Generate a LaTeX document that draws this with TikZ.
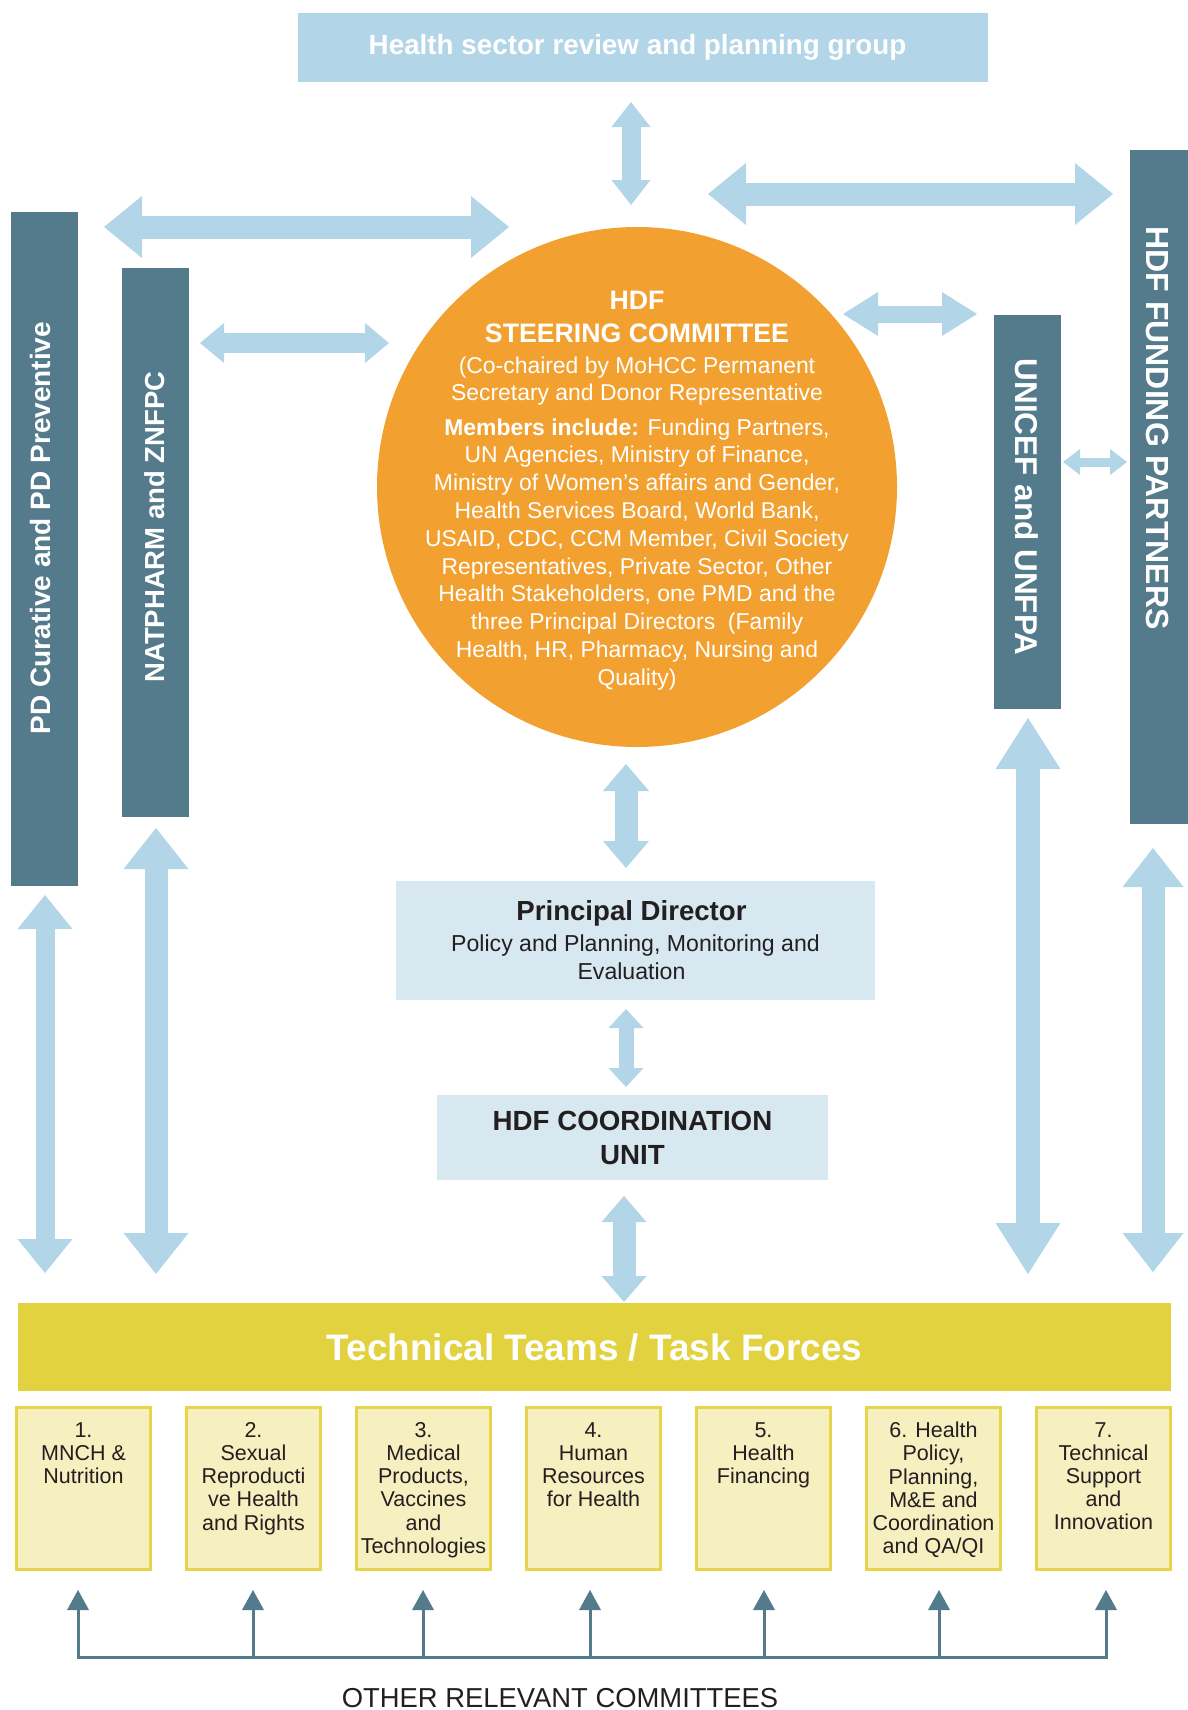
\documentclass[tikz,border=0pt]{standalone}
\usepackage{fontspec}
\setmainfont{Liberation Sans}
\usetikzlibrary{arrows.meta}

\definecolor{lblue}{HTML}{B3D5E8}
\definecolor{slate}{HTML}{537B8C}
\definecolor{sorange}{HTML}{F2A131}
\definecolor{palebox}{HTML}{D7E8F1}
\definecolor{ybar}{HTML}{E2D23F}
\definecolor{yfill}{HTML}{F6EFC0}
\definecolor{yedge}{HTML}{E6D54A}
\definecolor{darktext}{HTML}{231F20}

\begin{document}
\begin{tikzpicture}[x=1pt,y=-1pt,
  blk/.style n args={3}{draw=lblue, line width=#1pt,
    arrows={Triangle[length=#3pt,width=#2pt,line width=0pt]-Triangle[length=#3pt,width=#2pt,line width=0pt]}},
  bar/.style={fill=slate, inner sep=0pt},
  bartext/.style={text=white, inner sep=0pt, anchor=base,
    font=\bfseries\fontsize{#1}{#1}\selectfont},
  palerect/.style={fill=palebox, inner sep=0pt, align=center, text=darktext},
  taskbox/.style={fill=yfill, draw=yedge, line width=3pt, inner sep=0pt,
    minimum width=134pt, minimum height=162pt},
  tasktext/.style={anchor=north, align=center, inner sep=0pt, text=darktext,
    font=\fontsize{21.5}{23.2}\selectfont},
  uparr/.style={draw=slate, line width=3pt,
    arrows={-Triangle[length=20pt,width=22pt,line width=0pt]}},
]
\useasboundingbox (0,0) rectangle (1188,1710);

% ---------- top group ----------
\node[fill=lblue, inner sep=0pt, minimum width=690pt, minimum height=69pt,
      text=white, font=\bfseries\fontsize{27.8}{34}\selectfont] (hs) at (643,47.5)
      {Health sector review and planning group\hspace*{11pt}};

% ---------- steering committee ----------
\node[circle, fill=sorange, inner sep=0pt, minimum size=520pt] (sc) at (637,487) {};
\node[anchor=north, align=center, inner sep=0pt, text=white,
      font=\fontsize{22.9}{27.8}\selectfont] (sctext) at (637,290.8)
{{\bfseries\fontsize{26.7}{27.8}\selectfont HDF}\\[5.2pt]
 {\bfseries\fontsize{26.7}{27.8}\selectfont STEERING COMMITTEE}\\[2.9pt]
 (Co-chaired by MoHCC Permanent\\
 Secretary and Donor Representative\\[6.4pt]
 \textbf{Members include:} Funding Partners,\\
 UN Agencies, Ministry of Finance,\\
 Ministry of Women’s affairs and Gender,\\
 Health Services Board, World Bank,\\
 USAID, CDC, CCM Member, Civil Society\\
 Representatives, Private Sector, Other\\
 Health Stakeholders, one PMD and the\\
 three Principal Directors\ \ (Family\\
 Health, HR, Pharmacy, Nursing and\\
 Quality)};

% ---------- side bars ----------
\node[bar, minimum width=67pt, minimum height=674pt] (pdc) at (44.5,549) {};
\node[bartext=28, rotate=90] (pdct) at (50,528) {PD Curative and PD Preventive};

\node[bar, minimum width=67pt, minimum height=549pt] (nat) at (155.5,542.5) {};
\node[bartext=27.5, rotate=90] (natt) at (164,527) {NATPHARM and ZNFPC};

\node[bar, minimum width=67pt, minimum height=394pt] (uni) at (1027.5,512) {};
\node[bartext=31.5, rotate=-90] (unit) at (1015,507) {UNICEF and UNFPA};

\node[bar, minimum width=58pt, minimum height=674pt] (fund) at (1159,487) {};
\node[bartext=32, rotate=-90] (fundt) at (1146,428) {HDF FUNDING PARTNERS};

% ---------- central column ----------
\node[palerect, minimum width=479pt, minimum height=119pt,
      font=\fontsize{23.1}{28.5}\selectfont] (pdir) at (635.5,940.5)
{{\bfseries\fontsize{27.6}{28.5}\selectfont Principal Director\hspace*{8pt}}\\[2pt]
 Policy and Planning, Monitoring and\hspace*{8pt}\\
 Evaluation\hspace*{8pt}};

\node[palerect, minimum width=391pt, minimum height=85pt,
      font=\bfseries\fontsize{27.7}{34}\selectfont] (cu) at (632.5,1137.5)
{HDF COORDINATION\\UNIT};

\node[fill=ybar, inner sep=0pt, minimum width=1153pt, minimum height=88pt,
      text=white, font=\bfseries\fontsize{36.9}{40}\selectfont] (tt) at (594.5,1347)
{Technical Teams / Task Forces};

% ---------- technical teams ----------
\foreach \i/\cx/\txt in {
  1/83.5/{1.\\MNCH \&\\Nutrition},
  2/253.5/{2.\\Sexual\\Reproducti\\ve Health\\and Rights},
  3/423.5/{3.\\Medical\\Products,\\Vaccines\\and\\Technologies},
  4/593.5/{4.\\Human\\Resources\\for Health},
  5/763.5/{5.\\Health\\Financing},
  6/933.5/{6. Health\\Policy,\\Planning,\\M\&E and\\Coordination\\and QA/QI},
  7/1103.5/{7.\\Technical\\Support\\and\\Innovation}}{
  \node[taskbox] (t\i) at (\cx,1488.5) {};
  \node[tasktext] (tx\i) at (\cx,1422) {\txt};
}

% ---------- block arrows ----------
\coordinate (a1s) at (631,102);   \coordinate (a1e) at (631,205);
\coordinate (a2s) at (104,227);   \coordinate (a2e) at (509,227);
\coordinate (a3s) at (708,194);   \coordinate (a3e) at (1113,194);
\coordinate (a4s) at (200,343);   \coordinate (a4e) at (389,343);
\coordinate (a5s) at (843,314);   \coordinate (a5e) at (977,314);
\coordinate (a6s) at (1063,462);  \coordinate (a6e) at (1127,462);
\coordinate (a7s) at (626,764);   \coordinate (a7e) at (626,868);
\coordinate (a8s) at (626,1009);  \coordinate (a8e) at (626,1087);
\coordinate (a9s) at (624,1196);  \coordinate (a9e) at (624,1302);
\coordinate (b1s) at (45,895);    \coordinate (b1e) at (45,1273);
\coordinate (b2s) at (156,828);   \coordinate (b2e) at (156,1274);
\coordinate (b3s) at (1028,718);  \coordinate (b3e) at (1028,1274);
\coordinate (b4s) at (1153,848);  \coordinate (b4e) at (1153,1272);

\draw[blk={19}{39}{25}] (a1s) -- (a1e);
\draw[blk={23}{62}{38}] (a2s) -- (a2e);
\draw[blk={23}{62}{38}] (a3s) -- (a3e);
\draw[blk={20}{40}{24}] (a4s) -- (a4e);
\draw[blk={17}{44}{35}] (a5s) -- (a5e);
\draw[blk={9}{26}{17}]  (a6s) -- (a6e);
\draw[blk={23}{46}{27}] (a7s) -- (a7e);
\draw[blk={15}{35}{19}] (a8s) -- (a8e);
\draw[blk={23}{45}{26}] (a9s) -- (a9e);
\draw[blk={19}{55}{34}] (b1s) -- (b1e);
\draw[blk={23}{65}{41}] (b2s) -- (b2e);
\draw[blk={24}{65}{51}] (b3s) -- (b3e);
\draw[blk={23}{61}{39}] (b4s) -- (b4e);

% ---------- other relevant committees ----------
\foreach \i/\bx in {1/78,2/253,3/423,4/590,5/764,6/939,7/1106}{
  \coordinate (c\i) at (\bx,1657);
  \draw[uparr, shorten >=19pt] (c\i) -- (c\i |- t\i.south);
}
\draw[draw=slate, line width=3pt, line cap=rect] (c1) -- (c7);
\node[anchor=base, inner sep=0pt, text=darktext,
      font=\fontsize{27.4}{30}\selectfont] (orc) at (560,1707)
{OTHER RELEVANT COMMITTEES};

\end{tikzpicture}
\end{document}
